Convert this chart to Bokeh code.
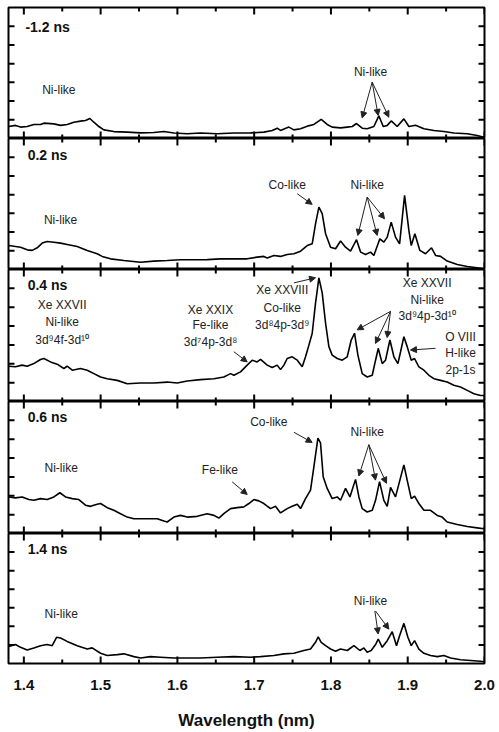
from bokeh.plotting import figure
from bokeh.models import Range1d, LinearAxis, FixedTicker, Label, Arrow, NormalHead, ColumnDataSource
from bokeh.layouts import column
from bokeh.embed import file_html
from bokeh.resources import INLINE

# ---------------- data ----------------
panel_titles = ["-1.2 ns", "0.2 ns", "0.4 ns", "0.6 ns", "1.4 ns"]

x_major_ticks = [1.4, 1.5, 1.6, 1.7, 1.8, 1.9, 2.0]
x_tick_labels = ["1.4", "1.5", "1.6", "1.7", "1.8", "1.9", "2.0"]
x_minor_ticks = [1.45, 1.55, 1.65, 1.75, 1.85, 1.95]
y_ticks = [1, 2, 3, 4, 5, 6]

wl_m12 = [1.3805, 1.3891, 1.3957, 1.4043, 1.4130, 1.4217, 1.4261, 1.4391, 1.4478, 1.4564,
          1.4651, 1.4738, 1.4803, 1.4860, 1.4912, 1.4977, 1.5042, 1.5172, 1.5346, 1.5520,
          1.5693, 1.5824, 1.5954, 1.6128, 1.6301, 1.6518, 1.6736, 1.6953, 1.7126, 1.7235,
          1.7300, 1.7343, 1.7452, 1.7517, 1.7604, 1.7691, 1.7778, 1.7873, 1.7951, 1.8016,
          1.8125, 1.8212, 1.8277, 1.8333, 1.8407, 1.8472, 1.8559, 1.8624, 1.8681, 1.8733,
          1.8785, 1.8863, 1.8950, 1.9015, 1.9102, 1.9211, 1.9341, 1.9471, 1.9601, 1.9775,
          1.9905, 1.9992]
int_m12 = [0.64, 0.70, 0.61, 0.64, 0.75, 0.75, 0.82, 0.78, 0.70, 0.75,
           0.87, 0.93, 0.96, 1.07, 0.87, 0.64, 0.46, 0.37, 0.34, 0.30,
           0.32, 0.37, 0.29, 0.25, 0.29, 0.25, 0.29, 0.30, 0.34, 0.43,
           0.55, 0.43, 0.61, 0.46, 0.52, 0.66, 0.75, 1.02, 0.75, 0.61,
           0.57, 0.61, 0.64, 0.80, 0.55, 0.52, 0.64, 1.21, 0.64, 0.70,
           0.94, 0.64, 1.05, 0.64, 0.71, 0.52, 0.43, 0.37, 0.29, 0.25,
           0.16, 0.07]

wl_02 = [1.3805, 1.3891, 1.3957, 1.4043, 1.4109, 1.4174, 1.4239, 1.4304, 1.4391, 1.4478,
         1.4564, 1.4695, 1.4825, 1.4955, 1.5020, 1.5129, 1.5303, 1.5520, 1.5693, 1.5867,
         1.6041, 1.6214, 1.6388, 1.6562, 1.6736, 1.6909, 1.7039, 1.7126, 1.7170, 1.7257,
         1.7343, 1.7430, 1.7517, 1.7604, 1.7691, 1.7756, 1.7799, 1.7843, 1.7886, 1.7930,
         1.7995, 1.8060, 1.8125, 1.8190, 1.8255, 1.8333, 1.8386, 1.8451, 1.8516, 1.8559,
         1.8637, 1.8689, 1.8733, 1.8785, 1.8841, 1.8894, 1.8959, 1.9015, 1.9046, 1.9093,
         1.9158, 1.9232, 1.9310, 1.9363, 1.9428, 1.9514, 1.9645, 1.9775, 1.9905, 1.9992]
int_02 = [1.28, 1.23, 1.19, 1.05, 1.02, 1.16, 1.41, 1.50, 1.46, 1.41,
          1.34, 1.23, 1.02, 0.84, 0.70, 0.57, 0.48, 0.39, 0.45, 0.48,
          0.52, 0.52, 0.53, 0.57, 0.57, 0.57, 0.66, 0.70, 0.62, 0.75,
          0.70, 0.80, 0.84, 0.98, 1.28, 1.37, 2.44, 3.33, 2.98, 1.91,
          1.19, 1.11, 1.52, 1.19, 0.98, 1.59, 0.93, 0.80, 0.93, 0.75,
          1.64, 1.46, 1.73, 2.53, 1.73, 1.37, 3.96, 2.09, 1.28, 1.91,
          1.02, 0.84, 1.16, 0.75, 0.70, 0.45, 0.27, 0.16, 0.09, 0.04]

wl_04 = [1.3805, 1.3891, 1.3978, 1.4043, 1.4130, 1.4217, 1.4261, 1.4347, 1.4434, 1.4521,
         1.4564, 1.4630, 1.4738, 1.4825, 1.4912, 1.4999, 1.5086, 1.5216, 1.5346, 1.5520,
         1.5693, 1.5867, 1.5997, 1.6128, 1.6301, 1.6475, 1.6605, 1.6692, 1.6736, 1.6822,
         1.6909, 1.6974, 1.7039, 1.7083, 1.7170, 1.7235, 1.7300, 1.7343, 1.7387, 1.7430,
         1.7495, 1.7561, 1.7626, 1.7669, 1.7713, 1.7756, 1.7799, 1.7843, 1.7886, 1.7930,
         1.7973, 1.8016, 1.8082, 1.8147, 1.8212, 1.8264, 1.8307, 1.8351, 1.8407, 1.8472,
         1.8538, 1.8581, 1.8616, 1.8668, 1.8711, 1.8768, 1.8820, 1.8872, 1.8907, 1.8950,
         1.8993, 1.9046, 1.9089, 1.9145, 1.9211, 1.9276, 1.9341, 1.9428, 1.9514, 1.9601,
         1.9688, 1.9775, 1.9862, 1.9949, 1.9992]
int_04 = [1.87, 1.84, 1.93, 1.87, 2.01, 2.23, 2.28, 2.10, 1.98, 1.75,
          1.87, 1.66, 1.75, 1.66, 1.48, 1.30, 1.21, 1.12, 0.94, 0.98,
          0.98, 1.03, 0.98, 1.09, 1.16, 1.21, 1.30, 1.48, 1.39, 1.57,
          1.93, 2.19, 2.10, 2.23, 1.93, 1.80, 1.93, 1.69, 1.93, 2.28,
          2.37, 2.19, 1.84, 2.37, 2.99, 3.62, 5.22, 6.56, 5.76, 4.15,
          2.91, 2.46, 2.28, 2.19, 2.37, 3.26, 3.62, 2.46, 1.48, 1.30,
          1.39, 2.19, 2.82, 2.01, 2.19, 3.26, 2.37, 2.01, 2.64, 3.44,
          2.91, 2.19, 2.28, 1.84, 1.66, 1.39, 1.21, 1.12, 1.03, 0.86,
          0.77, 0.59, 0.41, 0.32, 0.32]

wl_06 = [1.3805, 1.3891, 1.3978, 1.4065, 1.4130, 1.4217, 1.4304, 1.4391, 1.4469, 1.4543,
         1.4630, 1.4716, 1.4803, 1.4868, 1.4955, 1.4999, 1.5086, 1.5172, 1.5259, 1.5346,
         1.5433, 1.5607, 1.5737, 1.5824, 1.5867, 1.5954, 1.6041, 1.6128, 1.6258, 1.6388,
         1.6475, 1.6540, 1.6605, 1.6692, 1.6779, 1.6866, 1.6931, 1.6996, 1.7061, 1.7126,
         1.7213, 1.7278, 1.7343, 1.7430, 1.7495, 1.7561, 1.7604, 1.7669, 1.7734, 1.7778,
         1.7830, 1.7864, 1.7899, 1.7951, 1.8016, 1.8082, 1.8125, 1.8190, 1.8247, 1.8320,
         1.8364, 1.8407, 1.8472, 1.8538, 1.8581, 1.8633, 1.8689, 1.8733, 1.8776, 1.8841,
         1.8898, 1.8950, 1.9002, 1.9046, 1.9089, 1.9145, 1.9211, 1.9297, 1.9384, 1.9449,
         1.9514, 1.9645, 1.9775, 1.9905, 1.9992]
int_06 = [1.94, 1.89, 1.94, 1.80, 1.76, 1.85, 1.80, 1.94, 2.16, 1.94,
          1.85, 1.80, 1.50, 1.44, 1.55, 1.59, 1.37, 1.23, 1.05, 0.87,
          0.78, 0.78, 0.78, 0.66, 0.61, 0.87, 0.96, 0.87, 0.91, 1.05,
          0.96, 0.82, 1.05, 1.32, 1.37, 1.41, 1.59, 1.80, 1.73, 1.59,
          1.32, 1.44, 1.09, 1.32, 1.44, 1.55, 1.32, 1.85, 2.30, 3.55,
          5.06, 4.80, 3.01, 2.39, 1.85, 1.94, 1.76, 2.39, 1.94, 2.87,
          1.94, 1.32, 1.14, 1.23, 1.76, 2.75, 1.76, 1.44, 2.44, 1.94,
          2.83, 3.64, 2.66, 1.85, 1.98, 1.59, 1.23, 1.23, 0.96, 0.87,
          0.61, 0.48, 0.37, 0.30, 0.25]

wl_14 = [1.3805, 1.3891, 1.3957, 1.4043, 1.4130, 1.4217, 1.4304, 1.4369, 1.4426, 1.4478,
         1.4564, 1.4695, 1.4825, 1.4890, 1.4999, 1.5086, 1.5216, 1.5303, 1.5433, 1.5520,
         1.5650, 1.5780, 1.5954, 1.6128, 1.6301, 1.6518, 1.6736, 1.6953, 1.7083, 1.7257,
         1.7387, 1.7517, 1.7647, 1.7734, 1.7799, 1.7834, 1.7873, 1.7930, 1.7995, 1.8060,
         1.8125, 1.8212, 1.8299, 1.8377, 1.8429, 1.8472, 1.8524, 1.8581, 1.8616, 1.8668,
         1.8733, 1.8798, 1.8854, 1.8894, 1.8950, 1.9002, 1.9046, 1.9089, 1.9145, 1.9211,
         1.9297, 1.9384, 1.9471, 1.9558, 1.9688, 1.9818, 1.9949, 1.9992]
int_14 = [0.91, 1.02, 0.87, 0.73, 0.84, 0.96, 1.02, 0.96, 1.41, 1.37,
          1.19, 0.96, 0.78, 0.84, 0.55, 0.43, 0.48, 0.52, 0.37, 0.30,
          0.37, 0.34, 0.30, 0.30, 0.30, 0.34, 0.37, 0.34, 0.37, 0.43,
          0.52, 0.55, 0.70, 0.78, 1.14, 1.44, 1.14, 0.96, 0.78, 0.66,
          0.78, 0.70, 0.96, 0.70, 0.84, 0.61, 0.70, 1.02, 1.32, 0.87,
          1.23, 1.71, 0.96, 1.50, 2.16, 1.41, 0.96, 1.23, 0.78, 0.55,
          0.43, 0.37, 0.43, 0.30, 0.20, 0.16, 0.12, 0.09]

series = [(wl_m12, int_m12), (wl_02, int_02), (wl_04, int_04), (wl_06, int_06), (wl_14, int_14)]

# annotations: (x, y, text) in data units; arrows: (x0, y0, x1, y1)
texts = [
    [(1.4456, 2.57, "Ni-like"), (1.8516, 3.55, "Ni-like")],
    [(1.4478, 2.66, "Ni-like"), (1.7430, 4.53, "Co-like"), (1.8472, 4.53, "Ni-like")],
    [(1.4499, 5.13, "Xe XXVII"), (1.4499, 4.19, "Ni-like"), (1.4499, 3.26, "3d\u20794f-3d\u00b9\u2070"),
     (1.6431, 4.87, "Xe XXIX"), (1.6431, 4.06, "Fe-like"), (1.6431, 3.17, "3d\u20774p-3d\u2078"),
     (1.7365, 5.90, "Xe XXVIII"), (1.7365, 4.96, "Co-like"), (1.7365, 4.06, "3d\u20784p-3d\u2079"),
     (1.9253, 6.29, "Xe XXVII"), (1.9253, 5.40, "Ni-like"), (1.9253, 4.51, "3d\u20794p-3d\u00b9\u2070"),
     (1.9687, 3.44, "O VIII"), (1.9687, 2.55, "H-like"), (1.9687, 1.66, "2p-1s")],
    [(1.4486, 3.46, "Ni-like"), (1.6553, 3.37, "Fe-like"), (1.7191, 5.90, "Co-like"), (1.8472, 5.37, "Ni-like")],
    [(1.4486, 2.69, "Ni-like"), (1.8515, 3.37, "Ni-like")],
]
arrows = [
    [(1.8537, 3.01, 1.8407, 1.10), (1.8537, 3.01, 1.8615, 1.23), (1.8537, 3.01, 1.8754, 1.14)],
    [(1.7560, 4.05, 1.7755, 3.48),
     (1.8472, 3.87, 1.8350, 1.82), (1.8472, 3.87, 1.8602, 1.82), (1.8472, 3.87, 1.8698, 2.71)],
    [(1.6735, 2.64, 1.6909, 2.10), (1.7517, 6.29, 1.7799, 6.56),
     (1.8776, 4.78, 1.8341, 3.80), (1.8776, 4.78, 1.8580, 3.08), (1.8776, 4.78, 1.8732, 3.39),
     (1.9362, 2.82, 1.9036, 2.73)],
    [(1.6713, 2.74, 1.6909, 2.07), (1.7517, 5.37, 1.7755, 4.83),
     (1.8493, 4.71, 1.8363, 3.05), (1.8493, 4.71, 1.8580, 2.83), (1.8493, 4.71, 1.8723, 2.66)],
    [(1.8572, 2.83, 1.8615, 1.59), (1.8580, 2.83, 1.8754, 1.85)],
]
title_pos = [(1.402, 5.95), (1.405, 6.1), (1.405, 6.2), (1.405, 6.2), (1.405, 6.15)]

FONT = "Liberation Sans"
X0, X1 = 1.38, 2.0
Y0, Y1 = 0.0, 7.0
FRAME_W = 476
frame_heights = [131, 131, 132, 132, 130]
MAJ_X_PX, MIN_X_PX, Y_PX = 7, 4, 6

figs = []
for i, (wl, inten) in enumerate(series):
    first = i == 0
    last = i == len(series) - 1
    fh = frame_heights[i]
    p = figure(frame_width=FRAME_W, frame_height=fh,
               x_range=Range1d(X0, X1), y_range=Range1d(Y0, Y1),
               x_axis_location=None, y_axis_location=None,
               output_backend="svg", toolbar_location=None,
               min_border_left=8, min_border_right=15,
               min_border_top=7 if first else 0, min_border_bottom=69 if last else 0)
    p.background_fill_color = "white"
    p.border_fill_color = "white"
    p.outline_line_color = "black"
    p.outline_line_width = 2
    p.grid.visible = False

    # inward tick marks on all four sides (lengths converted from pixels to data units)
    dx = (X1 - X0) / FRAME_W
    dy = (Y1 - Y0) / fh
    vx, vy0, vy1 = [], [], []
    for t in x_major_ticks + x_minor_ticks:
        L = (MAJ_X_PX if t in x_major_ticks else MIN_X_PX) * dy
        vx += [float(t), float(t)]
        vy0 += [Y0, Y1]
        vy1 += [Y0 + L, Y1 - L]
    p.segment(x0=vx, y0=vy0, x1=vx, y1=vy1, line_color="black", line_width=2)
    hy, hx0, hx1 = [], [], []
    for t in y_ticks:
        L = Y_PX * dx
        hy += [float(t), float(t)]
        hx0 += [X0, X1]
        hx1 += [X0 + L, X1 - L]
    p.segment(x0=hx0, y0=hy, x1=hx1, y1=hy, line_color="black", line_width=2)

    if last:
        ax = LinearAxis(ticker=FixedTicker(ticks=x_major_ticks))
        ax.axis_line_color = None
        ax.major_tick_line_color = None
        ax.minor_tick_line_color = None
        ax.major_tick_in = 0
        ax.major_tick_out = 0
        ax.major_label_overrides = {t: s for t, s in zip(x_major_ticks, x_tick_labels)}
        ax.major_label_text_font = FONT
        ax.major_label_text_font_style = "bold"
        ax.major_label_text_font_size = "15px"
        ax.major_label_text_color = "#111111"
        ax.major_label_standoff = 16
        ax.axis_label = "Wavelength (nm)"
        ax.axis_label_text_font = FONT
        ax.axis_label_text_font_style = "bold"
        ax.axis_label_text_font_size = "17px"
        ax.axis_label_text_color = "#111111"
        ax.axis_label_standoff = 18
        p.add_layout(ax, "below")

    src = ColumnDataSource(dict(x=wl, y=inten))
    p.line("x", "y", source=src, line_color="black", line_width=1.6)

    tx, ty = title_pos[i]
    p.add_layout(Label(x=tx, y=ty, text=panel_titles[i], text_font=FONT, text_font_style="bold",
                       text_font_size="14px", text_baseline="middle", text_align="left",
                       text_color="#111111"))
    for (x, y, s) in texts[i]:
        p.add_layout(Label(x=x, y=y, text=s, text_font=FONT, text_font_size="12px",
                           text_align="center", text_baseline="middle", text_color="#222222"))
    for (x0, y0, x1, y1) in arrows[i]:
        p.add_layout(Arrow(x_start=x0, y_start=y0, x_end=x1, y_end=y1, line_width=1,
                           line_color="#222222",
                           end=NormalHead(size=6, fill_color="#222222", line_color="#222222")))
    figs.append(p)

layout = column(*figs, spacing=0)
open("out.html", "w").write(file_html(layout, INLINE))
